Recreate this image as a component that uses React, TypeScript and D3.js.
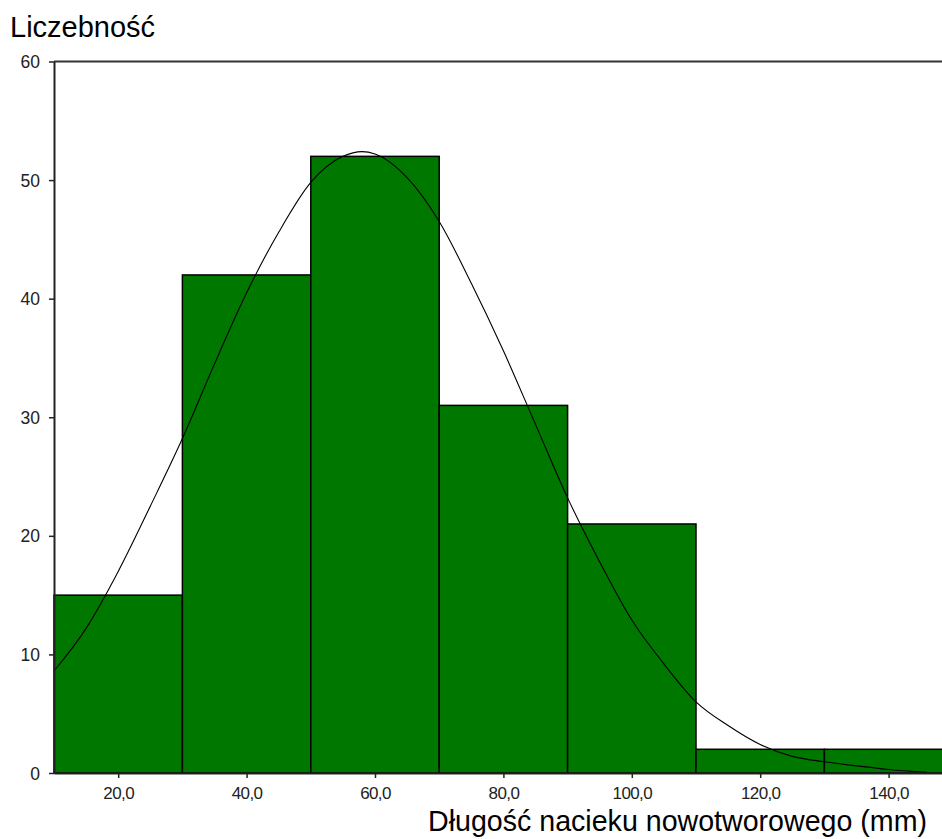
import React, { useEffect, useRef } from "react";
import * as d3 from "d3";

const binStarts = [10, 30, 50, 70, 90, 110, 130];
const binEnds = [30, 50, 70, 90, 110, 130, 150];
const counts = [15, 42, 52, 31, 21, 2, 2];

const curveX = [10, 15, 20, 25, 30, 35, 40, 45, 50, 55, 58, 60, 65, 70, 75, 80, 85, 90, 95, 100, 105, 110, 115, 120, 125, 130, 135, 140, 146];
const curveY = [8.6, 12.2, 17.0, 22.5, 28.2, 34.5, 40.5, 45.6, 49.8, 52.0, 52.4, 52.2, 50.2, 46.5, 41.3, 35.6, 29.4, 23.2, 17.8, 12.9, 9.2, 6.0, 4.0, 2.4, 1.4, 0.95, 0.6, 0.3, 0.05];

const xTicks = [20, 40, 60, 80, 100, 120, 140];
const yTicks = [0, 10, 20, 30, 40, 50, 60];

const yTitle = "Liczebność";
const xTitle = "Długość nacieku nowotworowego (mm)";

export default function App() {
  const ref = useRef<SVGSVGElement | null>(null);

  useEffect(() => {
    const svg = d3.select(ref.current);
    svg.selectAll("*").remove();

    const x = d3.scaleLinear().domain([10, 150]).range([54, 54 + 140 * 6.42]);
    const y = d3.scaleLinear().domain([0, 60]).range([773, 61.5]);

    // bars
    svg
      .append("g")
      .selectAll("rect")
      .data(counts)
      .join("rect")
      .attr("x", (_d, i) => x(binStarts[i]))
      .attr("y", (d) => y(d))
      .attr("width", (_d, i) => x(binEnds[i]) - x(binStarts[i]))
      .attr("height", (d) => y(0) - y(d))
      .attr("fill", "#007800")
      .attr("stroke", "#000")
      .attr("stroke-width", 1.5);

    // normal curve
    const pts = curveX.map((v, i) => [v, curveY[i]] as [number, number]);
    const line = d3
      .line<[number, number]>()
      .x((d) => x(d[0]))
      .y((d) => y(d[1]))
      .curve(d3.curveMonotoneX);
    svg
      .append("path")
      .attr("d", line(pts))
      .attr("fill", "none")
      .attr("stroke", "#000")
      .attr("stroke-width", 1.1);

    // top frame line
    svg
      .append("line")
      .attr("x1", x(10))
      .attr("x2", 942)
      .attr("y1", y(60))
      .attr("y2", y(60))
      .attr("stroke", "#333")
      .attr("stroke-width", 2);

    // y axis
    const yAxis = d3
      .axisLeft(y)
      .tickValues(yTicks)
      .tickFormat((d) => String(d))
      .tickSize(5)
      .tickSizeOuter(0)
      .tickPadding(9);
    const gy = svg.append("g").attr("transform", `translate(${x(10)},0)`).call(yAxis);
    gy.attr("font-size", null).attr("font-family", null);
    gy.select(".domain").attr("stroke", "#222").attr("stroke-width", 2);
    gy.selectAll(".tick line").attr("stroke", "#222").attr("stroke-width", 1.5);
    gy.selectAll(".tick text")
      .style("font-family", "'Liberation Sans', Arial, sans-serif")
      .style("font-size", "17.5px")
      .attr("fill", "#222")
      .attr("dy", "0.35em");

    // x axis
    const fmt = (v: number) => v.toFixed(1).replace(".", ",");
    const xAxis = d3
      .axisBottom(x)
      .tickValues(xTicks)
      .tickFormat((d) => fmt(d as number))
      .tickSize(5)
      .tickSizeOuter(0)
      .tickPadding(9);
    const gx = svg.append("g").attr("transform", `translate(0,${y(0)})`).call(xAxis);
    gx.attr("font-size", null).attr("font-family", null);
    gx.select(".domain").attr("stroke", "#222").attr("stroke-width", 2);
    gx.selectAll(".tick line").attr("stroke", "#222").attr("stroke-width", 1.5);
    gx.selectAll(".tick text")
      .style("font-family", "'Liberation Sans', Arial, sans-serif")
      .style("font-size", "17px")
      .style("letter-spacing", "-0.6px")
      .attr("fill", "#222");

    // titles
    svg
      .append("text")
      .attr("x", 10)
      .attr("y", 37)
      .style("font-family", "'Liberation Sans', Arial, sans-serif")
      .style("font-size", "29px")
      .attr("fill", "#000")
      .text(yTitle);
    svg
      .append("text")
      .attr("x", 927)
      .attr("y", 831)
      .attr("text-anchor", "end")
      .style("font-family", "'Liberation Sans', Arial, sans-serif")
      .style("font-size", "28.6px")
      .attr("fill", "#000")
      .text(xTitle);
  }, []);

  return (
    <svg
      ref={ref}
      width={942}
      height={839}
      style={{ position: "absolute", left: 0, top: 0, background: "#fff", overflow: "hidden" }}
    />
  );
}
